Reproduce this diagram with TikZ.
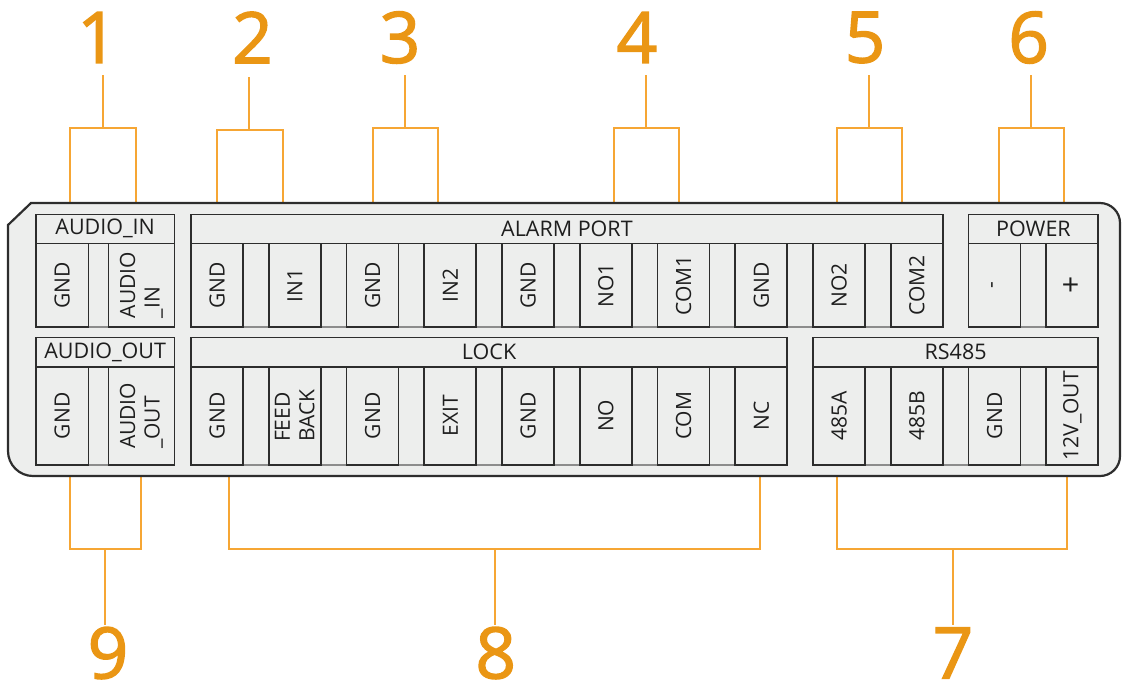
\documentclass[tikz,border=0pt]{standalone}
\usepackage{fontspec}
\setmainfont{Open Sans}
\newfontfamily\numfont{Open Sans}[FakeBold=2]
\definecolor{numorange}{RGB}{234,150,20}
\definecolor{lineorange}{RGB}{246,166,52}
\definecolor{panelfill}{RGB}{237,238,237}
\definecolor{edgecol}{RGB}{45,45,45}
\definecolor{spacercol}{RGB}{140,140,140}
\definecolor{txtcol}{RGB}{30,30,30}
\tikzset{
  num/.style={text=numorange, font=\numfont\fontsize{71}{71}\selectfont, inner sep=0pt},
  bracketline/.style={draw=lineorange, line width=2pt},
  panelline/.style={draw=edgecol, line width=2.2pt, fill=panelfill},
  cellline/.style={draw=edgecol, line width=1.6pt},
  spacerline/.style={draw=spacercol, line width=1.4pt},
  celltext/.style={text=txtcol, font=\fontsize{21}{24.5}\selectfont, rotate=90, inner sep=0pt, align=left},
  headtext/.style={text=txtcol, font=\fontsize{21.5}{24}\selectfont, inner sep=0pt}
}
\newcommand{\bracketTop}[7]{% label, xL, xR, xStem, yH, numx, stemtop
  \node[num] (n#1) at (#6,37.5) {#1};
  \coordinate (s#1) at (#4,#7);
  \coordinate (l#1) at (#2,203);
  \coordinate (r#1) at (#3,203);
  \draw[bracketline] (l#1) -- (#2,#5) -- (#3,#5) -- (r#1);
  \draw[bracketline] (#4,#5) -- (s#1);
}
\newcommand{\bracketBot}[6]{% label, xL, xR, xStem, yH, numx
  \node[num] (n#1) at (#6,653) {#1};
  \coordinate (s#1) at (#4,625);
  \coordinate (l#1) at (#2,476);
  \coordinate (r#1) at (#3,476);
  \draw[bracketline] (l#1) -- (#2,#5) -- (#3,#5) -- (r#1);
  \draw[bracketline] (#4,#5) -- (s#1);
}
\begin{document}
\begin{tikzpicture}[x=1pt,y=-1pt]
\useasboundingbox (0,0) rectangle (1123,686);
% brackets and numbers
\bracketTop{1}{70}{135.7}{102.7}{127.7}{97.5}{75}
\bracketTop{2}{217}{282.5}{249}{130}{252.5}{77}
\bracketTop{3}{372.5}{437.5}{404.6}{127.7}{400}{75}
\bracketTop{4}{613.6}{678.6}{645.7}{127.7}{637}{75}
\bracketTop{5}{836.8}{902}{869.3}{127.7}{865}{75}
\bracketTop{6}{999.3}{1064.3}{1031.4}{127.7}{1028.6}{75}
\bracketBot{9}{69.6}{141.4}{105}{549}{108}
\bracketBot{8}{228.5}{759.5}{494.5}{549}{495.7}
\bracketBot{7}{837}{1067}{953}{549}{953}
% panel
\draw[panelline] (31,203) -- (1100,203) arc[start angle=-90,end angle=0,radius=20]
  -- (1120,456) arc[start angle=0,end angle=90,radius=20]
  -- (33,476) arc[start angle=90,end angle=180,radius=25]
  -- (8,225) -- cycle;
% block outlines (spacer bottoms)
\draw[spacerline] (36,214.3) rectangle (174.3,327);
\draw[spacerline] (36,337.3) rectangle (174.3,465);
\draw[spacerline] (191,214.3) rectangle (942.75,327);
\draw[spacerline] (968.5,214.3) rectangle (1098.25,327);
\draw[spacerline] (191,337.3) rectangle (787.25,465);
\draw[spacerline] (813,337.3) rectangle (1098.25,465);
% headers
\draw[cellline] (36,214.3) rectangle (174.3,243.3);
\node[headtext] (hAin) at (105.15,228.8) {AUDIO\_IN};
\draw[cellline] (36,337.3) rectangle (174.3,366.7);
\node[headtext] (hAout) at (105.15,352) {AUDIO\_OUT};
\draw[cellline] (191,214.3) rectangle (942.75,243.3);
\node[headtext] (hAlarm) at (566.9,228.8) {ALARM PORT};
\draw[cellline] (968.5,214.3) rectangle (1098.25,243.3);
\node[headtext] (hPower) at (1033.4,228.8) {POWER};
\draw[cellline] (191,337.3) rectangle (787.25,366.7);
\node[headtext] (hLock) at (489.1,352) {LOCK};
\draw[cellline] (813,337.3) rectangle (1098.25,366.7);
\node[headtext] (hRs) at (955.6,352) {RS485};
% audio cells
\draw[cellline] (36,243.3) rectangle (88.3,327);
\node[celltext] (aig) at (62.15,285.15) {GND};
\draw[cellline] (108.3,243.3) rectangle (174.3,327);
\node[celltext] (aia) at (141.3,285.15) {AUDIO\\\_IN};
\draw[cellline] (36,366.7) rectangle (88.3,465);
\node[celltext] (aog) at (62.15,415.85) {GND};
\draw[cellline] (108.3,366.7) rectangle (174.3,465);
\node[celltext] (aoa) at (141.3,415.85) {AUDIO\\\_OUT};
% top row cells
\foreach \lab [count=\k from 0] in {GND,IN1,GND,IN2,GND,NO1,COM1,GND,NO2,COM2,-,{\fontsize{30}{30}\selectfont +}} {
  \pgfmathsetmacro\xa{191+77.75*\k}
  \draw[cellline] (\xa,243.3) rectangle ({\xa+52},327);
  \node[celltext] (t\k) at ({\xa+26},285.15) {\lab};
}
% bottom row cells
\foreach \lab [count=\k from 0] in {GND,{FEED\\BACK},GND,EXIT,GND,NO,COM,NC,485A,485B,GND,12V\_OUT} {
  \pgfmathsetmacro\xa{191+77.75*\k}
  \draw[cellline] (\xa,366.7) rectangle ({\xa+52},465);
  \node[celltext] (b\k) at ({\xa+26},415.85) {\lab};
}
\end{tikzpicture}
\end{document}
